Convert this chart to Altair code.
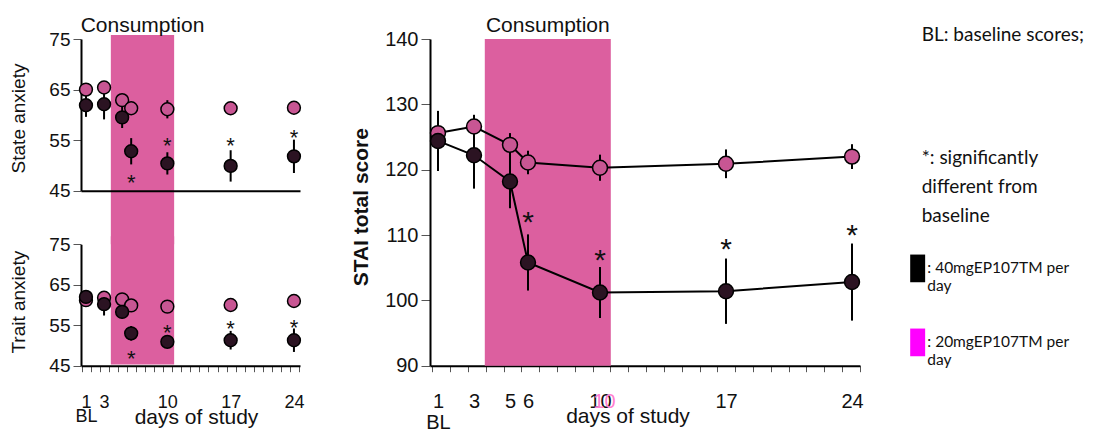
import altair as alt
import pandas as pd

# ---------------- data ----------------
days = [1, 3, 5, 6, 10, 17, 24]
doses = ["40mgEP107TM per day", "20mgEP107TM per day"]

state_40 = [61.9, 62.1, 59.5, 52.8, 50.4, 49.9, 51.8]
state_40_err = [2.3, 3.0, 2.1, 2.6, 2.2, 3.1, 3.3]
state_20 = [65.0, 65.4, 62.9, 61.3, 61.1, 61.3, 61.4]
state_20_err = [1.2, 1.2, 1.2, 1.2, 1.8, 1.2, 1.2]
state_star_days = [6, 10, 17, 24]
state_star_y = [47.7, 55.0, 55.0, 56.6]

trait_40 = [62.0, 60.2, 58.3, 53.0, 50.9, 51.3, 51.3]
trait_40_err = [1.6, 2.8, 1.6, 1.8, 1.5, 2.3, 2.9]
trait_20 = [61.2, 61.8, 61.4, 59.9, 59.6, 60.0, 61.0]
trait_20_err = [1.2, 1.2, 1.2, 1.2, 1.2, 1.2, 1.2]
trait_star_days = [6, 10, 17, 24]
trait_star_y = [48.2, 54.6, 55.6, 55.9]

stai_40 = [124.4, 122.2, 118.2, 105.8, 101.2, 101.4, 102.8]
stai_40_err = [4.6, 5.1, 4.1, 4.3, 3.9, 5.0, 5.9]
stai_20 = [125.6, 126.6, 123.8, 121.1, 120.3, 120.9, 122.0]
stai_20_err = [1.5, 1.8, 1.8, 1.8, 2.0, 2.2, 1.9]
stai_star_days = [6, 10, 17, 24]
stai_star_y = [113.0, 107.3, 109.0, 111.0]

# consumption window (days) and vertical extent of the shading (axis units)
left_window = [3.75, 10.75]
right_window = [3.6, 10.6]
state_shade = [34.4, 75.8]
trait_shade = [45.3, 77.0]
stai_shade = [90.0, 140.0]

left_xlabels = [1, 3, 10, 17, 24]
right_xlabels = [1, 3, 5, 6, 10, 17, 24]
left_yticks = [45, 55, 65, 75]
right_yticks = [90, 100, 110, 120, 130, 140]

note_bl = "BL: baseline scores;"
note_sig = ["*: significantly", "different from", "baseline"]

# ---------------- styling / layout ----------------
W, H = 1088, 416
FONT = "Liberation Sans"
NOTE_FONT = "Lato"
C_SHADE = "#DC5F9F"
C_PINK = "#C85693"
C_DARK = "#2B1322"

LX = ([0.45, 24.67], [73, 292])
RX = ([0.556, 24.444], [422, 852])
STATE_Y = ([45, 75], [182.7, 31])
TRAIT_Y = ([45, 75], [357.7, 236.3])
STAI_Y = ([90, 140], [357.7, 31])

left_ticks = [round(0.55 + k, 2) for k in range(25)]
right_ticks = [round(0.68 + k * 0.99, 2) for k in range(25)]


def scl(p):
    return alt.Scale(domain=p[0], range=p[1], nice=False, zero=False)


def X(field, p, axis=None):
    return alt.X(field, type="quantitative", scale=scl(p), axis=axis)


def Y(field, p, axis=None):
    return alt.Y(field, type="quantitative", scale=scl(p), axis=axis)


def series(v40, e40, v20, e20):
    rows = []
    for d, v, e in zip(days, v20, e20):
        rows.append(dict(day=d, value=v, lo=v - e, hi=v + e, dose=doses[1]))
    for d, v, e in zip(days, v40, e40):
        rows.append(dict(day=d, value=v, lo=v - e, hi=v + e, dose=doses[0]))
    return pd.DataFrame(rows)


def yaxis(values, offset, title, title_x, title_y, tick, lsize, tsize, bold=False):
    return alt.Axis(orient="left", offset=offset, values=values, domainColor="black", domainWidth=2,
                    tickColor="#555", tickWidth=1, tickSize=tick, labelFont=FONT, labelFontSize=lsize,
                    labelColor="#111", labelPadding=3, title=title, titleFont=FONT, titleFontSize=tsize,
                    titleFontWeight="bold" if bold else "normal", titleColor="#111", titleAngle=270,
                    titleX=title_x, titleY=title_y, titleBaseline="alphabetic", titleAlign="center", grid=False)


def tick_axis(values, offset):
    return alt.Axis(orient="bottom", offset=offset, values=values, labels=False, domainColor="black",
                    domainWidth=2, tickColor="#555", tickWidth=1, tickSize=6, title=None, grid=False)


def label_axis(values, offset, lsize, pad, lh, title_x, title_y, color="#111", expr=None, loff=0, title=True):
    kw = dict(orient="bottom", offset=offset, values=values, domain=False, ticks=False, tickSize=0,
              labelFont=FONT, labelFontSize=lsize, labelColor=color, labelPadding=pad, labelLineHeight=lh,
              labelFlush=False, labelOverlap=False, labelOffset=loff, grid=False)
    if expr:
        kw["labelExpr"] = expr
    if title:
        kw.update(title="days of study", titleFont=FONT, titleFontSize=21, titleFontWeight="normal",
                  titleColor="#111", titleX=title_x, titleY=title_y, titleBaseline="alphabetic",
                  titleAlign="center")
    else:
        kw["title"] = None
    return alt.Axis(**kw)


BL_EXPR = "datum.value == 1 ? ['1', 'BL'] : datum.label"


def panel(df, stars_x, stars_y, window, shade, xp, yp, size, star_size, star_dy,
          y_axis, x_axis_a, x_axis_b=None, x_axis_c=None, lines=False, consumption=None):
    layers = []
    band = pd.DataFrame({"start": [window[0]], "end": [window[1]], "lo": [shade[0]], "hi": [shade[1]]})
    layers.append(alt.Chart(band).mark_rect(color=C_SHADE, opacity=1).encode(
        x=X("start", xp, x_axis_a), x2="end", y=Y("lo", yp, y_axis), y2="hi"))
    layers.append(alt.Chart(df).mark_rule(color="black", strokeWidth=2).encode(
        x=X("day", xp), y=Y("lo", yp), y2="hi"))
    if lines:
        layers.append(alt.Chart(df).mark_line(color="black", strokeWidth=2).encode(
            x=X("day", xp), y=Y("value", yp), detail="dose:N"))
    pink = df[df["dose"] == doses[1]]
    dark = df[df["dose"] == doses[0]]
    layers.append(alt.Chart(pink).mark_circle(color=C_PINK, stroke="black", strokeWidth=1.5, opacity=1,
                                              size=size).encode(x=X("day", xp, x_axis_b), y=Y("value", yp)))
    layers.append(alt.Chart(dark).mark_circle(color=C_DARK, stroke="black", strokeWidth=1.5, opacity=1,
                                              size=size).encode(x=X("day", xp, x_axis_c), y=Y("value", yp)))
    sdf = pd.DataFrame({"day": stars_x, "y": stars_y})
    layers.append(alt.Chart(sdf).mark_text(text="*", font=FONT, fontSize=star_size, color="#111",
                                           baseline="middle", dy=star_dy).encode(
        x=X("day", xp), y=Y("y", yp)))
    if consumption is not None:
        cdf = pd.DataFrame({"start": [window[0]], "end": [window[1]], "top": [shade[1]]})
        layers.append(alt.Chart(cdf).transform_calculate(mid="(datum.start + datum.end) / 2").mark_text(
            text="Consumption", font=FONT, fontSize=21, color="#111", baseline="alphabetic",
            dy=consumption).encode(x=X("mid", xp), y=Y("top", yp)))
    return layers


state_df = series(state_40, state_40_err, state_20, state_20_err)
trait_df = series(trait_40, trait_40_err, trait_20, trait_20_err)
stai_df = series(stai_40, stai_40_err, stai_20, stai_20_err)

top_layers = panel(
    state_df, state_star_days, state_star_y, left_window, state_shade, LX, STATE_Y, 165, 22, 6,
    y_axis=yaxis(left_yticks, -73, "State anxiety", -57, 110, 8, 19, 19),
    x_axis_a=alt.Axis(orient="bottom", offset=182.7 - H, ticks=False, labels=False, domainColor="black",
                      domainWidth=2, title=None, grid=False, zindex=1),
    consumption=-3)

bottom_layers = panel(
    trait_df, trait_star_days, trait_star_y, left_window, trait_shade, LX, TRAIT_Y, 165, 22, 6,
    y_axis=yaxis(left_yticks, -73, "Trait anxiety", -57, 293.7, 8, 19, 19),
    x_axis_a=tick_axis(left_ticks, 357.7 - H),
    x_axis_b=label_axis(left_xlabels, 357.7 - H, 18, 28, 13.5, 188, 57.6, expr=BL_EXPR))

right_layers = panel(
    stai_df, stai_star_days, stai_star_y, right_window, stai_shade, RX, STAI_Y, 222, 30, 8,
    y_axis=yaxis(right_yticks, -422, "STAI total score", -63, 198.7, 9, 20, 21, bold=True),
    x_axis_a=tick_axis(right_ticks, 357.7 - H),
    x_axis_b=label_axis(right_xlabels, 357.7 - H, 20, 26, 20.5, 619.5, 56.3, expr=BL_EXPR),
    x_axis_c=label_axis([10], 357.7 - H, 20, 26, 20.5, 0, 0, color="#FF7FD0", loff=4, title=False),
    lines=True, consumption=-7)

legend_layer = alt.Chart(pd.DataFrame({"dose": doses})).transform_filter("false").mark_point(
    filled=True, opacity=1).encode(
    color=alt.Color("dose:N", scale=alt.Scale(domain=doses, range=["#000000", "#FF00FF"]),
                    legend=alt.Legend(
                        orient="none", legendX=913.7, legendY=140.6, padding=0,
                        title=note_sig, titleFont=NOTE_FONT, titleFontSize=19, titleFontWeight="normal",
                        titleColor="#111", titleLineHeight=29.4, titleBaseline="top", titleAlign="left",
                        titleAnchor="start", titlePadding=28,
                        labelFont=NOTE_FONT, labelFontSize=15.5, labelColor="#111", labelLimit=300,
                        labelExpr="[': ' + substring(datum.label, 0, length(datum.label) - 4), 'day']",
                        symbolType="M-0.08,-1H1V1H-0.08Z", symbolSize=767, symbolStrokeWidth=0,
                        symbolOpacity=1, symbolOffset=-24.4, labelOffset=2, rowPadding=34)))

chart = alt.layer(*top_layers, *bottom_layers, *right_layers, legend_layer).resolve_scale(
    x="independent", y="independent"
).properties(
    width=W, height=H, autosize=alt.AutoSizeParams(type="none"),
    padding={"left": 0, "top": 0, "right": 0, "bottom": 8},
    title=alt.TitleParams(note_bl, orient="top", anchor="end", align="left", frame="group",
                          baseline="top", offset=0, dx=913.7 - W, dy=37, font=NOTE_FONT, fontSize=19,
                          fontWeight="normal", color="#111"),
).configure_view(strokeWidth=0).configure_axis(grid=False)

chart.save("out.html", embed_options={"renderer": "svg", "actions": False})
